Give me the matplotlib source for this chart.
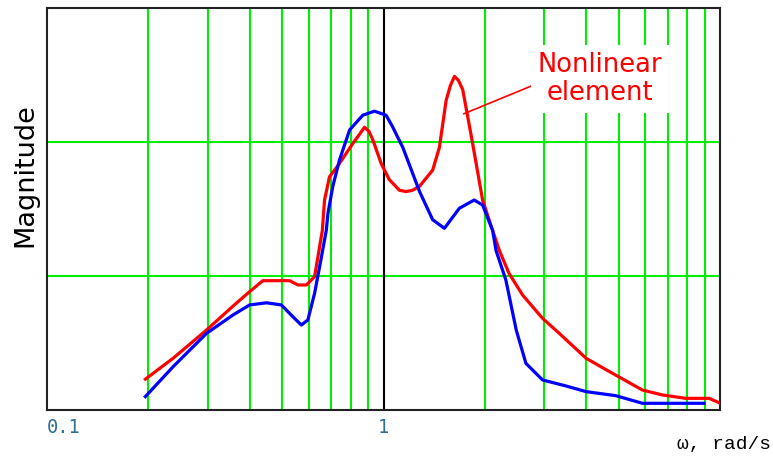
import matplotlib
matplotlib.use("Agg")
import matplotlib.pyplot as plt

# ---- data ----
red_w = [0.196, 0.237, 0.298, 0.357, 0.40, 0.438, 0.48, 0.526, 0.557, 0.59, 0.624,
         0.646, 0.658, 0.668, 0.691, 0.740, 0.811, 0.85, 0.878, 0.905, 0.930, 0.984,
         1.04, 1.115, 1.167, 1.22, 1.28, 1.40, 1.466, 1.535, 1.58, 1.625, 1.67, 1.72,
         1.84, 1.97, 2.11, 2.21, 2.36, 2.59, 2.97, 3.33, 4.0, 4.79, 5.88, 6.75, 7.91,
         9.28, 9.93]
red_mag = [0.23, 0.386, 0.597, 0.775, 0.883, 0.965, 0.965, 0.965, 0.933, 0.933, 0.995,
           1.22, 1.34, 1.567, 1.74, 1.84, 1.99, 2.06, 2.11, 2.08, 2.015, 1.84,
           1.72, 1.64, 1.63, 1.64, 1.67, 1.79, 1.96, 2.31, 2.42, 2.49, 2.46, 2.39,
           1.99, 1.567, 1.34, 1.19, 1.02, 0.858, 0.684, 0.572, 0.386, 0.274, 0.149,
           0.112, 0.087, 0.087, 0.055]

blue_w = [0.196, 0.237, 0.298, 0.357, 0.40, 0.449, 0.497, 0.538, 0.570, 0.596, 0.624,
          0.646, 0.676, 0.684, 0.707, 0.740, 0.793, 0.868, 0.940, 1.018, 1.066, 1.10,
          1.141, 1.28, 1.40, 1.517, 1.68, 1.86, 1.97, 2.11, 2.16, 2.31, 2.48, 2.65,
          2.97, 3.49, 4.0, 4.9, 5.88, 8.97]
blue_mag = [0.10, 0.323, 0.572, 0.709, 0.784, 0.80, 0.784, 0.696, 0.634, 0.672, 0.871,
            1.07, 1.34, 1.47, 1.67, 1.866, 2.09, 2.20, 2.23, 2.20, 2.11, 2.04,
            1.96, 1.63, 1.42, 1.356, 1.505, 1.567, 1.53, 1.34, 1.19, 0.97, 0.597, 0.348,
            0.224, 0.179, 0.137, 0.107, 0.05, 0.05]

x_grid = [0.2, 0.3, 0.4, 0.5, 0.6, 0.7, 0.8, 0.9, 2, 3, 4, 5, 6, 7, 8, 9]
y_grid = [1, 2]
x_tick_labels = {0.1: "0.1", 1: "1"}
y_label = "Magnitude"
x_label = "ω, rad/s"
annot_text = "Nonlinear\nelement"

# ---- figure ----
fig = plt.figure(figsize=(7.73, 4.59), dpi=100)
ax = fig.add_axes([47 / 773, 1 - 410 / 459, 673 / 773, 402 / 459])
ax.set_xscale("log")
ax.set_xlim(0.1, 10)
ax.set_ylim(0, 3)

for g in x_grid:
    ax.axvline(g, color="#00ee00", lw=1.5, zorder=1)
for g in y_grid:
    ax.axhline(g, color="#00ee00", lw=1.5, zorder=1)
ax.axvline(1, color="black", lw=1.5, zorder=1.5)

ax.plot(red_w, red_mag, color="#ff0000", lw=2.3, zorder=3, solid_joinstyle="round")
ax.plot(blue_w, blue_mag, color="#0000ff", lw=2.3, zorder=4, solid_joinstyle="round")

ax.set_xticks([])
ax.set_yticks([])
ax.minorticks_off()
ax.tick_params(which="both", length=0)
for s in ax.spines.values():
    s.set_color("#222222")
    s.set_linewidth(1.5)

for xv, lab in x_tick_labels.items():
    ax.text(xv, -0.02, lab, transform=ax.get_xaxis_transform(),
            ha="left" if xv == 0.1 else "center",
            va="top", fontsize=13.5, family="DejaVu Sans Mono", color="#2f6f8f")

fig.text(771 / 773, 1 - 444 / 459, x_label, ha="right", va="center",
         fontsize=14, family="Liberation Mono", color="black")
fig.text(25 / 773, 1 - 175 / 459, y_label, rotation=90, ha="center", va="center",
         fontsize=19.5, color="black")

ax.annotate(annot_text, xy=(1.73, 2.21), xytext=(600 / 773, 1 - 79 / 459),
            textcoords="figure fraction", ha="center", va="center",
            fontsize=18.5, color="#ff0000", linespacing=1.15, zorder=5,
            bbox=dict(boxstyle="square,pad=0.25", fc="white", ec="none"),
            arrowprops=dict(arrowstyle="-", color="#ff0000", lw=1.2,
                            shrinkA=0, shrinkB=0, relpos=(0.0, 0.42)))

fig.savefig("out.png", dpi=100)
